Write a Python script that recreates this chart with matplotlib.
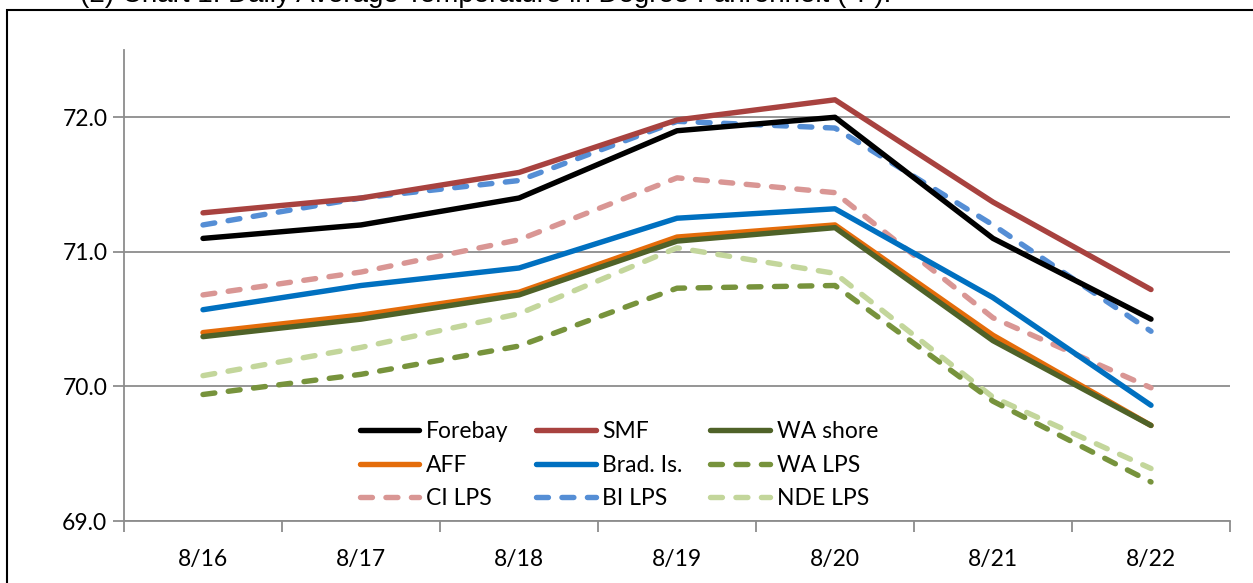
import matplotlib.pyplot as plt
from matplotlib.patches import Rectangle

# ----------------- DATA -----------------
dates = ["8/16", "8/17", "8/18", "8/19", "8/20", "8/21", "8/22"]

forebay = [71.10, 71.20, 71.40, 71.90, 72.00, 71.10, 70.50]
smf = [71.29, 71.40, 71.59, 71.98, 72.13, 71.37, 70.72]
wa_shore = [70.37, 70.50, 70.68, 71.08, 71.18, 70.34, 69.71]
aff = [70.40, 70.53, 70.70, 71.11, 71.20, 70.38, 69.71]
brad_is = [70.57, 70.75, 70.88, 71.25, 71.32, 70.66, 69.86]
wa_lps = [69.94, 70.09, 70.30, 70.73, 70.75, 69.89, 69.29]
ci_lps = [70.68, 70.85, 71.09, 71.55, 71.44, 70.51, 69.99]
bi_lps = [71.20, 71.40, 71.53, 71.97, 71.92, 71.20, 70.41]
nde_lps = [70.08, 70.29, 70.54, 71.03, 70.84, 69.92, 69.39]

yticks = [69.0, 70.0, 71.0, 72.0]

# ----------------- STYLE -----------------
plt.rcParams['font.family'] = ['Lato', 'DejaVu Sans']

# legend order (row-major in a 3 column legend)
series = [
    ("Forebay", forebay, "#000000", "-"),
    ("SMF", smf, "#A8423F", "-"),
    ("WA shore", wa_shore, "#4F6228", "-"),
    ("AFF", aff, "#E46C0A", "-"),
    ("Brad. Is.", brad_is, "#0070C0", "-"),
    ("WA LPS", wa_lps, "#77933C", "--"),
    ("CI LPS", ci_lps, "#D99694", "--"),
    ("BI LPS", bi_lps, "#558ED5", "--"),
    ("NDE LPS", nde_lps, "#C3D69B", "--"),
]

fig = plt.figure(figsize=(12.53, 5.83), dpi=100)
ax = fig.add_axes([124 / 1253, 1 - 521 / 583, (1230 - 124) / 1253, (521 - 50) / 583])

x = list(range(len(dates)))
handles = {}
# draw in reverse so Forebay ends on top
for name, vals, color, ls in series[::-1]:
    if ls == "--":
        h, = ax.plot(x, vals, color=color, lw=3.9, dashes=(2.2, 2.5),
                     dash_capstyle="round", dash_joinstyle="round")
    else:
        h, = ax.plot(x, vals, color=color, lw=3.9, solid_capstyle="round",
                     solid_joinstyle="round")
    h.set_label(name)
    handles[name] = h

# reorder legend: matplotlib fills columns first, so transpose
names = [s[0] for s in series]
rows = [names[i:i + 3] for i in range(0, 9, 3)]
order = [rows[r][c] for c in range(3) for r in range(3)]
ax.legend([handles[n] for n in order], order, ncol=3, frameon=False,
          loc="upper left", bbox_to_anchor=(0.213, 0.212), fontsize=16.5,
          handlelength=2.6, handletextpad=0.3, columnspacing=1.2,
          labelspacing=0.55, borderpad=0, borderaxespad=0)

ax.set_xlim(-0.5, len(dates) - 0.5)
ax.set_ylim(69.0, 72.5)
ax.set_yticks(yticks)
ax.set_yticklabels([f"{v:.1f}" for v in yticks], fontsize=16.5)
ax.yaxis.grid(True, color="#8C8C8C", lw=1.3)
ax.set_axisbelow(True)

ax.set_xticks(x)
ax.set_xticklabels(dates, fontsize=16.5)
ax.tick_params(axis="x", length=0, pad=20)
ax.set_xticks([i - 0.5 for i in range(len(dates) + 1)], minor=True)
ax.tick_params(axis="x", which="minor", length=8, width=1.3, color="#8C8C8C")
ax.tick_params(axis="y", length=8, width=1.3, color="#8C8C8C", pad=4)

for s in ["top", "right"]:
    ax.spines[s].set_visible(False)
for s in ["left", "bottom"]:
    ax.spines[s].set_color("#8C8C8C")
    ax.spines[s].set_linewidth(1.3)

# outer border of the chart object
fig.patches.append(Rectangle((7 / 1253, -0.1), 1.2, 1 - 10 / 583 + 0.1,
                             transform=fig.transFigure, fill=False,
                             edgecolor="black", lw=1.5))

# document caption, cut off at the top in the source image
fig.text(80 / 1253, 1.009, "(2) Chart 1. Daily Average Temperature in Degree Fahrenheit (\u00b0F).",
         fontsize=20, family=["Liberation Sans", "DejaVu Sans"], va="center", ha="left")

fig.savefig("out.png", dpi=100)
